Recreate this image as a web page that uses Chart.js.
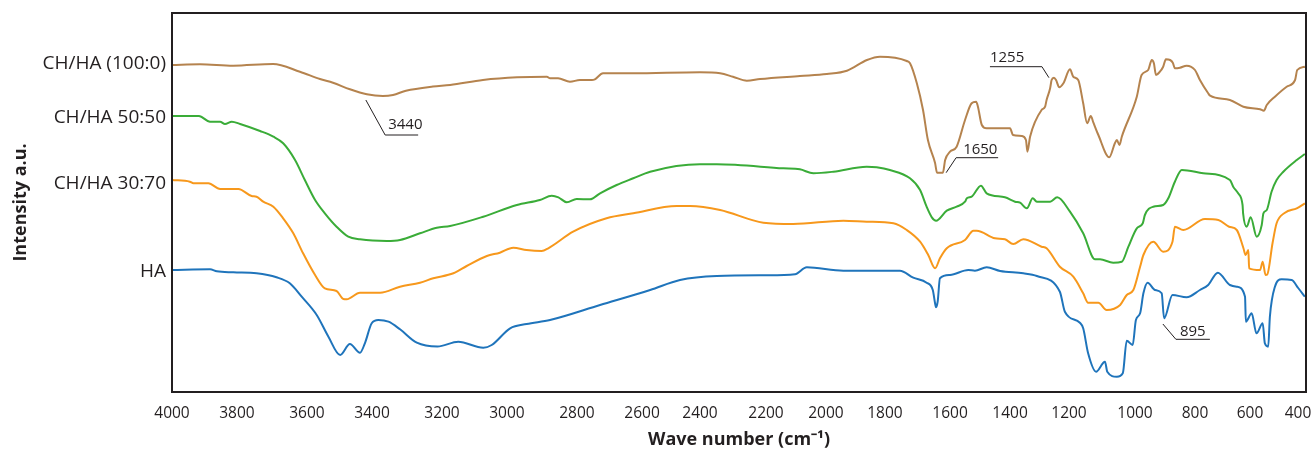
<!DOCTYPE html>
<html><head><meta charset="utf-8">
<script src="https://cdn.jsdelivr.net/npm/chart.js@4.4.1/dist/chart.umd.min.js"></script>
<style>html,body{margin:0;padding:0;background:#fff;}#wrap{width:1313px;height:452px;position:relative;}</style>
</head><body><div id="wrap"><canvas id="c"></canvas></div>
<script>
// ---------- axis ticks ----------
const waveTicks = [4000,3800,3600,3400,3200,3000,2800,2600,2400,2200,2000,1800,1600,1400,1200,1000,800,600,400];
const seriesNames = ['CH/HA (100:0)','CH/HA 50:50','CH/HA 30:70','HA'];
const yTickValues = [328, 274, 208, 120];

// ---------- series (wave number cm-1, intensity a.u.) ----------
const ch100Wave = [4000,3914,3812,3697,3620,3560,3520,3468,3416,3369,3340,3303,3226,3175,3074,2971,2886,2877,2854,2820,2791,2754,2745,2720,2628,2400,2339,2300,2258,2218,2087,1997,1929,1861,1817,1733,1723,1702,1683,1668,1646,1640,1622,1615,1600,1578,1550,1528,1513,1507,1494,1478,1400,1390,1360,1346,1341,1332,1293,1281,1276,1264,1259,1251,1244,1233,1219,1197,1187,1172,1157,1145,1134,1126,1111,1078,1061,1055,1047,1040,994,978,956,944,937,930,917,906,897,883,874,867,850,828,800,782,752,745,673,624,558,542,530,496,447,412,403,371];
const ch100Int = [327,327.7,326.3,328,320.3,313,309.3,302.7,297.7,296,297,301.3,305.5,307,312,314.7,315.3,313.7,313.7,310.3,312,312,312.7,318.7,318.7,319.7,318.7,315.3,311.3,313,316,318,321.3,332,335.3,331,328.7,308.7,282,252,229,219.3,219.3,232,240.3,245.3,272,288.7,290.3,285.3,267,263.7,263.7,257,256,252,240.3,255.3,282,285.3,292,303.7,312,314.3,312,304.7,308.7,322.7,315.3,312,288.7,268.7,276,269.3,257,234.7,248.7,252,247,255.3,295.3,317,322,332,328.7,317,320.3,325.3,332.7,332,329.3,323.7,324.3,326.3,322,312,298.7,296.3,292,285.3,282.7,281.3,287,295.3,305.3,312,322,325.3];

const ch50Wave = [4000,3917,3883,3852,3837,3816,3791,3734,3696,3668,3634,3606,3575,3545,3509,3473,3437,3358,3320,3263,3215,3175,3073,2972,2906,2872,2853,2829,2801,2760,2729,2678,2627,2572,2400,2349,2142,2087,2042,1975,1862,1828,1785,1723,1692,1672,1656,1643,1610,1578,1550,1544,1528,1497,1478,1417,1383,1366,1343,1323,1309,1264,1240,1197,1157,1121,1106,1066,1040,1020,994,974,967,939,906,889,867,844,770,673,661,643,627,625,612,597,572,551,544,530,510,489,461,405,371];
const ch50Int = [276,276,270.3,270.3,268,270.3,268,261,255.3,248.7,232,212,192,178.7,165.3,155.3,152.7,151,152,158.7,164.3,166,175.3,187,192,196.3,194.7,189.7,193,192.7,198.7,207,213.7,220.3,227.7,227.7,223.7,222.7,218.7,220.3,225.3,224.7,222,213.7,202,185.3,174.7,171.3,181.3,185.3,190.3,193.7,195.3,206.3,198.7,194.7,190.3,189.3,183.7,193.7,190.3,190.3,194.7,180.3,158.7,132.7,132.7,129.3,130.3,145.3,163.7,168.7,177,185.3,187,193.7,210.3,222,218.7,212,205.3,198.7,187,178.7,165.3,174.7,155.3,167,178.7,182,200.3,212,220.3,232,238];

const ch30Wave = [4000,3945,3934,3888,3852,3796,3758,3744,3725,3696,3668,3639,3611,3575,3545,3509,3488,3478,3437,3377,3320,3263,3225,3165,3124,3062,3022,2982,2944,2901,2882,2811,2709,2627,2480,2434,2339,2208,2109,1941,1862,1774,1733,1692,1667,1646,1631,1610,1550,1522,1511,1450,1417,1389,1355,1293,1276,1231,1187,1157,1142,1111,1086,1045,1025,1005,983,972,939,906,875,867,839,764,715,676,648,624,616,606,603,558,547,535,528,506,489,454,405,371];
const ch30Int = [212,210.3,208.7,208.7,203,203,196,195.3,190.3,185.3,173.7,158.7,138.7,117,103.7,101,93,92.7,99.3,99.3,105.3,109.3,113.7,118.7,126,136,139.3,144.3,142,141,143.7,160.3,173.7,178.7,186,186,182,169.3,168,171.3,170.3,168.7,162,150.3,137,123.7,133.7,143.7,152,161.3,161.3,153.7,152.7,148,152.7,145.3,143.7,125.3,115.3,98.7,89.3,89.3,82,87,97,102,125.3,137,150.3,140.3,150.3,165.3,162,173,172,165.3,162,144,137,142,123.7,122,130.3,117,117.5,148.7,168.7,179.3,183.7,188.7];

const haWave = [4000,3883,3862,3811,3744,3687,3649,3615,3570,3534,3498,3468,3437,3422,3401,3382,3353,3320,3272,3213,3150,3073,3047,2991,2944,2877,2729,2572,2469,2349,2198,2103,2064,1941,1754,1713,1672,1653,1646,1643,1638,1631,1600,1539,1517,1478,1433,1355,1309,1231,1214,1167,1157,1142,1118,1091,1084,1055,1037,1025,1007,997,983,972,958,933,911,903,875,828,782,752,717,673,648,618,615,593,573,547,538,524,517,496,468,426,399,371];
const haInt = [122,122.7,120.7,119.7,118.7,114.7,108.7,95.3,77,55.3,37,48,39.3,48.7,68.7,72,70.3,62.7,49.3,45.5,50.3,44.3,47,63.7,68,72,87,102,112,116,116.7,117.7,124.7,121.3,121.3,114.3,109.3,102,88.7,84.7,90.3,113.7,117,122,121.3,124.7,121,118.7,116,100.3,80.3,69.3,63.7,38.7,20.3,30.3,20.3,15.3,18.7,51.3,47,72,78.7,98.7,109.3,102,98.7,73.7,97,94.7,102,107,119.3,107,105.3,95.3,70.3,78.7,58.7,68.7,48.7,45.3,75.3,105.3,112.7,112,104,95.3];

// ---------- peak annotations ----------
const peakLabels = ['3440','1650','1255','895'];
const peakWave = [3419, 1612, 1268, 907];
const peakInt = [292, 219.3, 314.3, 68];

// ---------- styles ----------
const INK = '#231f20';
const colors = ['#b5834e','#3aac38','#f7981c','#1f74bb'];
// leader geometry (pixels): elbow offset, horizontal run, text offset from elbow
const leaderStyle = [
  {ex:19.3, ey:35, run:33, tx:3, ty:-6},
  {ex:10, ey:-15, run:42, tx:7, ty:-3.7},
  {ex:-7, ey:-11, run:-52, tx:-52, ty:-4.7},
  {ex:13, ey:15.3, run:34, tx:4, ty:-3.3}
];
// relative placement of the (unevenly spaced) printed tick marks along the axis
const tickFractions = [0,0.0573,0.1190,0.1764,0.2381,0.2954,0.3571,0.4145,0.4656,0.5238,0.5767,0.6287,0.6861,0.7390,0.7910,0.8492,0.9021,0.9506,0.9929];

class WarpScale extends Chart.LinearScale {
  static id = 'warp';
  buildTicks() { return waveTicks.map(v => ({value: v})); }
  _frac(v) {
    const W = waveTicks, F = tickFractions;
    let i = 0;
    while (i < W.length - 2 && v < W[i + 1]) i++;
    const t = (W[i] - v) / (W[i] - W[i + 1]);
    return F[i] + t * (F[i + 1] - F[i]);
  }
  getPixelForValue(v) { return this.left + this._frac(v) * (this.right - this.left); }
  getValueForPixel(p) {
    const f = (p - this.left) / (this.right - this.left);
    const W = waveTicks, F = tickFractions;
    let i = 0;
    while (i < F.length - 2 && f > F[i + 1]) i++;
    const t = (f - F[i]) / (F[i + 1] - F[i]);
    return W[i] + t * (W[i + 1] - W[i]);
  }
}
Chart.register(WarpScale);

function pts(xs, ys) { return xs.map((x, i) => ({x: x, y: ys[i]})); }

const frameAndNotes = {
  id: 'frameAndNotes',
  afterDraw(chart) {
    const {ctx, chartArea: a, scales: {x, y}} = chart;
    ctx.save();
    ctx.strokeStyle = INK;
    ctx.lineWidth = 2;
    ctx.strokeRect(a.left, a.top, a.right - a.left, a.bottom - a.top);
    ctx.lineWidth = 1;
    ctx.fillStyle = INK;
    ctx.font = '15px "Open Sans"';
    ctx.textAlign = 'left';
    ctx.textBaseline = 'alphabetic';
    peakLabels.forEach((lab, i) => {
      const s = leaderStyle[i];
      const px = x.getPixelForValue(peakWave[i]);
      const py = y.getPixelForValue(peakInt[i]);
      const ex = px + s.ex, ey = py + s.ey;
      ctx.beginPath();
      ctx.moveTo(px, py);
      ctx.lineTo(ex, ey);
      ctx.lineTo(ex + s.run, ey);
      ctx.stroke();
      ctx.fillText(lab, ex + s.tx, ey + s.ty);
    });
    ctx.restore();
  }
};

const datasetsSrc = [
  [ch100Wave, ch100Int], [ch50Wave, ch50Int], [ch30Wave, ch30Int], [haWave, haInt]
];

new Chart(document.getElementById('c'), {
  type: 'line',
  data: {
    datasets: datasetsSrc.map((d, i) => ({
      label: seriesNames[i],
      data: pts(d[0], d[1]),
      borderColor: colors[i],
      borderWidth: 2,
      pointRadius: 0,
      cubicInterpolationMode: 'monotone',
      fill: false
    }))
  },
  options: {
    responsive: true,
    maintainAspectRatio: false,
    animation: false,
    events: [],
    layout: {padding: {top: 13, right: 7, left: 0, bottom: 0}},
    plugins: {legend: {display: false}, tooltip: {enabled: false}},
    scales: {
      x: {
        type: 'warp',
        min: 360, max: 4000,
        grid: {display: false, drawTicks: false},
        border: {display: false},
        ticks: {
          autoSkip: false, maxRotation: 0, minRotation: 0, padding: 12,
          color: INK, font: {family: 'Open Sans', size: 15.5},
          callback: (v) => String(v)
        },
        title: {display: true, text: 'Wave number (cm\u207B\u00B9)', color: INK,
          font: {family: 'Open Sans', size: 18, weight: 'bold'}, padding: {top: 0, bottom: 1}},
        afterFit: (s) => { s.height = 60; s.paddingLeft = 0; s.paddingRight = 0; }
      },
      y: {
        type: 'linear',
        min: 0, max: 379,
        grid: {display: false, drawTicks: false},
        border: {display: false},
        afterBuildTicks: (s) => { s.ticks = yTickValues.map(v => ({value: v})); },
        ticks: {
          autoSkip: false, padding: 6, color: INK,
          font: {family: 'Open Sans', size: 19},
          callback: (v, i) => seriesNames[i]
        },
        title: {display: true, text: 'Intensity a.u.', color: INK,
          font: {family: 'Open Sans', size: 18, weight: 'bold'}, padding: {top: 10, bottom: 0}},
        afterFit: (s) => { s.width = 172; s.paddingTop = 0; s.paddingBottom = 0; }
      }
    }
  },
  plugins: [frameAndNotes]
});
</script></body></html>
